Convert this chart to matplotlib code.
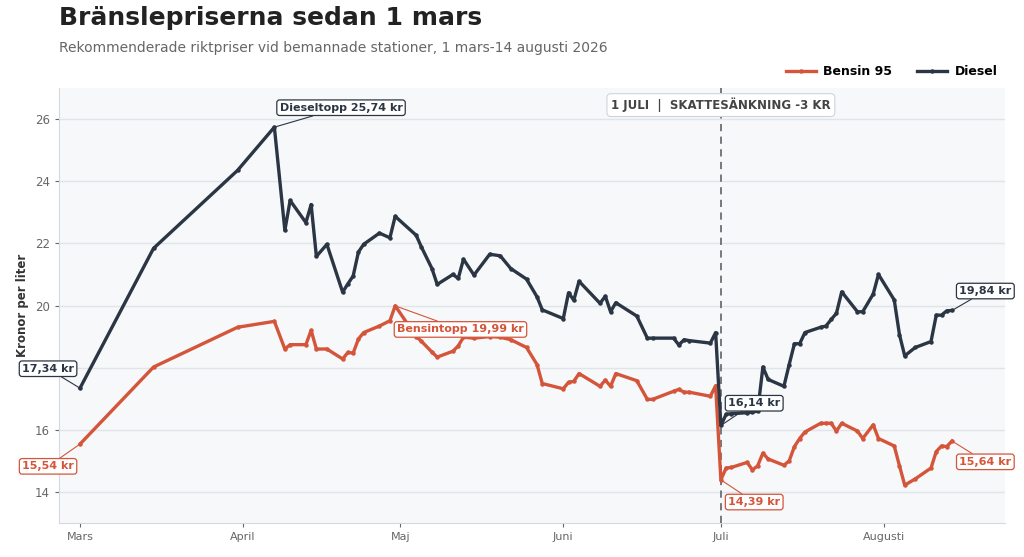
import pandas as pd
import matplotlib
matplotlib.use("Agg")
import matplotlib.pyplot as plt

# Rekommenderade riktpriser (kr/liter)
dates = [
    "2026-03-01", "2026-03-15", "2026-03-31", "2026-04-07", "2026-04-09", "2026-04-10",
    "2026-04-13", "2026-04-14", "2026-04-15", "2026-04-17", "2026-04-20", "2026-04-21",
    "2026-04-22", "2026-04-23", "2026-04-24", "2026-04-27", "2026-04-29", "2026-04-30",
    "2026-05-04", "2026-05-05", "2026-05-07", "2026-05-08", "2026-05-11", "2026-05-12",
    "2026-05-13", "2026-05-15", "2026-05-18", "2026-05-20", "2026-05-22", "2026-05-25",
    "2026-05-27", "2026-05-28", "2026-06-01", "2026-06-02", "2026-06-03", "2026-06-04",
    "2026-06-08", "2026-06-09", "2026-06-10", "2026-06-11", "2026-06-15", "2026-06-17",
    "2026-06-18", "2026-06-22", "2026-06-23", "2026-06-24", "2026-06-25", "2026-06-29",
    "2026-06-30", "2026-07-01", "2026-07-02", "2026-07-03", "2026-07-06", "2026-07-07",
    "2026-07-08", "2026-07-09", "2026-07-10", "2026-07-13", "2026-07-14", "2026-07-15",
    "2026-07-16", "2026-07-17", "2026-07-20", "2026-07-21", "2026-07-22", "2026-07-23",
    "2026-07-24", "2026-07-27", "2026-07-28", "2026-07-30", "2026-07-31", "2026-08-03",
    "2026-08-04", "2026-08-05", "2026-08-07", "2026-08-10", "2026-08-11", "2026-08-12",
    "2026-08-13", "2026-08-14",
]

bensin = [
    15.54, 18.02, 19.30, 19.49, 18.60, 18.74,
    18.74, 19.20, 18.60, 18.60, 18.28, 18.49,
    18.47, 18.92, 19.13, 19.34, 19.51, 19.99,
    19.00, 18.85, 18.50, 18.34, 18.53, 18.70,
    18.98, 18.95, 19.00, 18.98, 18.90, 18.65,
    18.10, 17.49, 17.32, 17.53, 17.56, 17.81,
    17.40, 17.60, 17.40, 17.81, 17.58, 16.98,
    16.98, 17.24, 17.30, 17.21, 17.21, 17.08,
    17.42, 14.39, 14.77, 14.79, 14.95, 14.71,
    14.84, 15.25, 15.06, 14.86, 15.00, 15.46,
    15.72, 15.93, 16.21, 16.21, 16.21, 15.96,
    16.21, 15.96, 15.72, 16.16, 15.72, 15.48,
    14.84, 14.22, 14.42, 14.77, 15.30, 15.48,
    15.46, 15.64,
]

diesel = [
    17.34, 21.84, 24.35, 25.74, 22.42, 23.38,
    22.67, 23.25, 21.58, 21.97, 20.43, 20.70,
    20.95, 21.72, 21.97, 22.33, 22.18, 22.87,
    22.26, 21.88, 21.19, 20.68, 21.00, 20.87,
    21.49, 20.98, 21.65, 21.60, 21.19, 20.85,
    20.28, 19.86, 19.58, 20.41, 20.17, 20.78,
    20.07, 20.30, 19.80, 20.09, 19.66, 18.95,
    18.95, 18.95, 18.73, 18.90, 18.87, 18.79,
    19.13, 16.14, 16.50, 16.52, 16.55, 16.57,
    16.60, 18.02, 17.62, 17.40, 18.10, 18.77,
    18.77, 19.13, 19.30, 19.34, 19.55, 19.75,
    20.44, 19.80, 19.80, 20.37, 21.00, 20.18,
    19.06, 18.38, 18.65, 18.84, 19.69, 19.69,
    19.83, 19.84,
]

month_ticks = ["2026-03-01", "2026-04-01", "2026-05-01", "2026-06-01", "2026-07-01", "2026-08-01"]
month_labels = ["Mars", "April", "Maj", "Juni", "Juli", "Augusti"]

RED = "#D4553A"
NAVY = "#2B3544"

x = pd.to_datetime(dates)

fig = plt.figure(figsize=(10.24, 5.57), dpi=100)
ax = fig.add_axes([0.0576, 0.061, 0.9234, 0.781])
ax.set_facecolor("#F6F8FA")

ax.plot(x, bensin, color=RED, lw=2.4, marker="o", ms=2.2, label="Bensin 95", zorder=4)
ax.plot(x, diesel, color=NAVY, lw=2.4, marker="o", ms=2.2, label="Diesel", zorder=4)

ax.set_ylim(13, 27)
ax.set_yticks([14, 16, 18, 20, 22, 24, 26])
ax.set_xlim(pd.Timestamp("2026-02-25"), pd.Timestamp("2026-08-24"))
ax.set_xticks(pd.to_datetime(month_ticks))
ax.set_xticklabels(month_labels)

ax.grid(axis="y", color="#E1E5EA", lw=1)
ax.set_axisbelow(True)
for side in ["top", "right"]:
    ax.spines[side].set_visible(False)
for side in ["left", "bottom"]:
    ax.spines[side].set_color("#D5D9DE")
ax.tick_params(colors="#666666", labelsize=8.5, length=3)
ax.tick_params(axis="x", labelsize=8)
ax.set_ylabel("Kronor per liter", fontsize=8.5, fontweight="bold", color="#333333")
ax.yaxis.set_label_coords(-0.032, 0.5)

# Skattesänkning 1 juli
cut = pd.Timestamp("2026-07-01")
ax.axvline(cut, color="#6B6F75", lw=1.3, ls=(0, (4, 3)), zorder=3)
ax.text(cut, 26.45, "1 JULI  |  SKATTESÄNKNING -3 KR", ha="center", va="center",
        fontsize=8.5, fontweight="bold", color="#444444", zorder=6,
        bbox=dict(boxstyle="round,pad=0.35", fc="white", ec="#D0D4D9", lw=0.8))


def label(i, series, text, color, dx, dy):
    ax.annotate(text, xy=(x[i], series[i]), xytext=(dx, dy), textcoords="offset points",
                ha="center", va="center", fontsize=8, fontweight="bold", color=color, zorder=7,
                bbox=dict(boxstyle="round,pad=0.25", fc="white", ec=color, lw=0.9),
                arrowprops=dict(arrowstyle="-", color=color, lw=0.8, shrinkA=0, shrinkB=1))


i_dtop = diesel.index(max(diesel))
i_btop = bensin.index(max(bensin))
i_cut = dates.index("2026-07-01")

label(0, diesel, "17,34 kr", NAVY, -23, 14)
label(0, bensin, "15,54 kr", RED, -23, -16)
label(i_dtop, diesel, "Dieseltopp 25,74 kr", NAVY, 48, 14)
label(i_btop, bensin, "Bensintopp 19,99 kr", RED, 47, -17)
label(i_cut, diesel, "16,14 kr", NAVY, 24, 16)
label(i_cut, bensin, "14,39 kr", RED, 24, -16)
label(len(dates) - 1, diesel, "19,84 kr", NAVY, 24, 14)
label(len(dates) - 1, bensin, "15,64 kr", RED, 24, -15)

fig.text(0.0576, 0.968, "Bränslepriserna sedan 1 mars", fontsize=18, fontweight="bold",
         color="#222222", va="center")
fig.text(0.0576, 0.914, "Rekommenderade riktpriser vid bemannade stationer, 1 mars-14 augusti 2026",
         fontsize=10, color="#666666", va="center")

fig.legend(loc="center right", bbox_to_anchor=(0.985, 0.871), ncol=2, frameon=False,
           prop=dict(weight="bold", size=9), handlelength=2.4, columnspacing=2.0, handletextpad=0.6)

fig.savefig("out.png", dpi=100)
